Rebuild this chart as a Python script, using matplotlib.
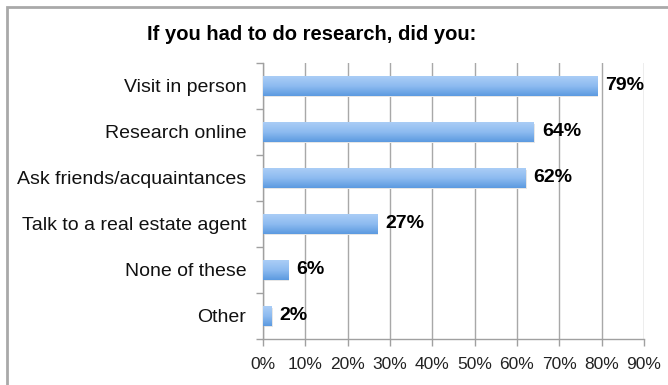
import numpy as np
import matplotlib.pyplot as plt
from matplotlib.colors import LinearSegmentedColormap
from matplotlib.patches import Rectangle

categories = ["Visit in person", "Research online", "Ask friends/acquaintances",
              "Talk to a real estate agent", "None of these", "Other"]
values = [79, 64, 62, 27, 6, 2]
x_ticks = [0, 10, 20, 30, 40, 50, 60, 70, 80, 90]
title = "If you had to do research, did you:"

plt.rcParams['font.family'] = ['Liberation Sans', 'DejaVu Sans']

fig = plt.figure(figsize=(6.68, 3.85), dpi=100)
fig.patch.set_facecolor('white')

# outer frame (only left and top edges fall inside the canvas)
frame = Rectangle((7 / 668, -0.1), 1.2, (385 - 7) / 385 + 0.1, transform=fig.transFigure,
                  fill=False, edgecolor='#a9a9a9', linewidth=2.0, zorder=0)
fig.patches.append(frame)

ax = fig.add_axes([263 / 668, 1 - 339 / 385, (644 - 263) / 668, (339 - 63) / 385])

n = len(categories)
ypos = np.arange(n)
bars = ax.barh(ypos, values, height=0.42, color='none', edgecolor='none', zorder=3)

grad_cmap = LinearSegmentedColormap.from_list('bar', ['#aacdf6', '#8dbbf0', '#5c9ae0'])
grad = np.linspace(0, 1, 64).reshape(-1, 1)
for b, v in zip(bars, values):
    x0, y0 = b.get_x(), b.get_y()
    w, h = b.get_width(), b.get_height()
    # soft shadow under each bar
    ax.add_patch(Rectangle((x0, y0 + 0.03), w + 0.25, h, facecolor='#e6e6e6',
                           edgecolor='none', zorder=2))
    im = ax.imshow(grad, cmap=grad_cmap, aspect='auto', extent=(x0, x0 + w, y0 + h, y0),
                   zorder=3, interpolation='bilinear')
    im.set_clip_path(b)
    ax.text(v + 1.9, b.get_y() + h / 2, f"{v}%", va='center', ha='left',
            fontsize=14, fontweight='bold', color='black', zorder=4)
ax.set_ylim(n - 0.5, -0.5)
ax.set_xlim(0, 90)

ax.set_xticks(x_ticks)
ax.set_xticklabels([f"{t}%" for t in x_ticks], fontsize=12.5)
ax.set_yticks(ypos)
ax.set_yticklabels(categories, fontsize=14)
ax.set_yticks(np.arange(-0.5, n, 1), minor=True)

ax.grid(axis='x', color='#a8a8a8', linewidth=1.0, zorder=1)
ax.set_axisbelow(True)
for side in ['top', 'right']:
    ax.spines[side].set_visible(False)
for side in ['left', 'bottom']:
    ax.spines[side].set_color('#a0a0a0')
    ax.spines[side].set_linewidth(1.0)

ax.tick_params(axis='y', which='major', length=0, pad=12, labelcolor='#111111')
ax.tick_params(axis='y', which='minor', length=5, color='#a0a0a0', width=1.0)
ax.tick_params(axis='x', which='major', length=5, color='#a0a0a0', width=1.0,
               pad=8, labelcolor='#222222')

fig.text(312 / 668, 1 - 35 / 385, title, ha='center', va='center',
         fontsize=14.5, fontweight='bold', color='black')

fig.savefig('out.png', dpi=100)
